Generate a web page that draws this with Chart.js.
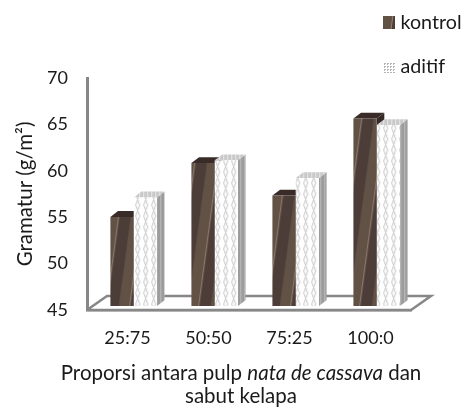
<!DOCTYPE html>
<html><head><meta charset="utf-8">
<style>html,body{margin:0;padding:0;background:#fff}#w{width:468px;height:409px}</style>
<script src="https://cdn.jsdelivr.net/npm/chart.js@4"></script>
</head><body><div id="w"><canvas id="c" width="468" height="409"></canvas></div>
<script>
const categories = ['25:75','50:50','75:25','100:0'];
const kontrol = [54.6, 60.4, 56.9, 65.2];
const aditif = [56.7, 60.7, 58.8, 64.5];
const yTicksMin = 45, yTicksMax = 70, yStep = 5;
const seriesNames = ['kontrol','aditif'];
const yTitle = 'Gramatur (g/m²)';
const xTitleLine1 = [['Proporsi antara pulp ',false],['nata de cassava',true],[' dan',false]];
const xTitleLine2 = 'sabut kelapa';

const FONT = 'Lato, Carlito, sans-serif';
const FS = 18, GREY = '#878787', TXT = '#1a1a1a';
const SHIFT = {x:6.2, y:-4}, D = {x:7.6, y:-5.8}, FLOOR = {x:20, y:-14};

function tile(w,h,fn){const c=document.createElement('canvas');c.width=w;c.height=h;const g=c.getContext('2d');fn(g,w,h);return document.createElement('canvas').getContext('2d').createPattern(c,'repeat');}
const kontrolFill = tile(23,172,(g,w,h)=>{
  g.fillStyle='#625246';g.fillRect(0,0,w,h);
  for(let k=-2;k<=1;k++){
    const a=k*w+4;
    g.fillStyle='#4c3d39';
    g.beginPath();g.moveTo(a,h);g.lineTo(a+w,0);g.lineTo(a+w+12,0);g.lineTo(a+12,h);g.closePath();g.fill();
    g.strokeStyle='rgba(185,165,145,.65)';g.lineWidth=1;
    g.beginPath();g.moveTo(a,h);g.lineTo(a+w,0);g.stroke();
  }
});
const aditifFill = tile(8,22,(g,w,h)=>{
  g.fillStyle='#fff';g.fillRect(0,0,w,h);
  g.strokeStyle='#c6c6c6';g.lineWidth=1;
  g.beginPath();g.moveTo(1.5,0);g.lineTo(5.5,11);g.lineTo(1.5,22);g.stroke();
  g.beginPath();g.moveTo(5.5,0);g.lineTo(1.5,11);g.lineTo(5.5,22);g.stroke();
});
const aditifSide = tile(4,4,(g)=>{g.fillStyle='#9c9c9c';g.fillRect(0,0,4,4);g.fillStyle='#bdbdbd';g.fillRect(2,0,1,4);});
const aditifCap = tile(4,4,(g)=>{g.fillStyle='#c9c9c9';g.fillRect(0,0,4,4);g.fillStyle='#e8e8e8';g.fillRect(1,0,1,4);});
const dots = tile(3,3,(g)=>{g.fillStyle='#fff';g.fillRect(0,0,3,3);g.fillStyle='#b5b5b5';g.fillRect(0,0,2,1);g.fillRect(0,0,1,2);});

function poly(ctx,pts,fill){ctx.fillStyle=fill;ctx.beginPath();pts.forEach((p,i)=>i?ctx.lineTo(p[0],p[1]):ctx.moveTo(p[0],p[1]));ctx.closePath();ctx.fill();}
function depth(ctx,chart,i,side,cap){
  chart.getDatasetMeta(i).data.forEach(b=>{
    const l=b.x-b.width/2,r=b.x+b.width/2,t=b.y,bt=b.base;
    poly(ctx,[[r,t],[r+D.x,t+D.y],[r+D.x,bt+D.y],[r,bt]],side);
    poly(ctx,[[l,t],[l+D.x,t+D.y],[r+D.x,t+D.y],[r,t]],cap);
  });
}
const bars3d = {
  id:'bars3d',
  beforeDatasetsDraw(chart){
    const ctx=chart.ctx,a=chart.chartArea;
    ctx.save();
    ctx.strokeStyle=GREY;ctx.lineWidth=2.5;ctx.lineJoin='miter';
    ctx.beginPath();ctx.moveTo(a.left,a.bottom);ctx.lineTo(a.left+FLOOR.x,a.bottom+FLOOR.y);
    ctx.lineTo(a.right+FLOOR.x,a.bottom+FLOOR.y);ctx.lineTo(a.right,a.bottom);ctx.lineTo(a.left,a.bottom);ctx.stroke();
    ctx.restore();
    ctx.save();
    ctx.translate(SHIFT.x,SHIFT.y);
    depth(ctx,chart,0,'#352a28','#382b28');
    depth(ctx,chart,1,aditifSide,aditifCap);
  },
  afterDatasetsDraw(chart){
    chart.ctx.restore();
    const ctx=chart.ctx;
    ctx.save();
    ctx.font='19.7px '+FONT;ctx.textBaseline='middle';ctx.textAlign='left';
    ctx.fillStyle=kontrolFill;ctx.fillRect(383,16,12,13);
    ctx.fillStyle=dots;ctx.fillRect(383,62,12,11);
    ctx.fillStyle=TXT;
    ctx.fillText(seriesNames[0],400.5,23);
    ctx.fillText(seriesNames[1],400.5,67);
    ctx.textBaseline='alphabetic';
    const fonts=it=>(it?'italic ':'')+'20.5px '+FONT;
    let tw=0;xTitleLine1.forEach(r=>{ctx.font=fonts(r[1]);tw+=ctx.measureText(r[0]).width;});
    let x=241-tw/2;
    xTitleLine1.forEach(r=>{ctx.font=fonts(r[1]);ctx.fillText(r[0],x,380);x+=ctx.measureText(r[0]).width;});
    ctx.font=fonts(false);ctx.textAlign='center';ctx.fillText(xTitleLine2,241,403);
    ctx.restore();
  }
};
new Chart(document.getElementById('c'),{
  type:'bar',
  data:{labels:categories,datasets:[
    {label:seriesNames[0],data:kontrol,base:yTicksMin,backgroundColor:kontrolFill,borderWidth:0,clip:false},
    {label:seriesNames[1],data:aditif,base:yTicksMin,backgroundColor:aditifFill,borderWidth:0,clip:false}
  ]},
  options:{
    responsive:false,animation:false,
    layout:{padding:{left:0,right:57,top:78,bottom:49}},
    datasets:{bar:{barPercentage:1,categoryPercentage:0.575}},
    plugins:{legend:{display:false},tooltip:{enabled:false}},
    scales:{
      x:{grid:{display:false},border:{display:true,color:GREY,width:2.5},
         ticks:{font:{family:FONT,size:FS},color:TXT,padding:9,maxRotation:0},
         afterFit(s){s.height=50;}},
      y:{min:yTicksMin,max:yTicksMax,grid:{display:false},border:{display:true,color:GREY,width:3},
         ticks:{stepSize:yStep,font:{family:FONT,size:FS},color:TXT,padding:11},
         title:{display:true,text:yTitle,font:{family:FONT,size:20.5},color:TXT,padding:{top:13,bottom:0}},
         afterFit(s){s.width=87;}}
    }
  },
  plugins:[bars3d]
});
</script></body></html>
